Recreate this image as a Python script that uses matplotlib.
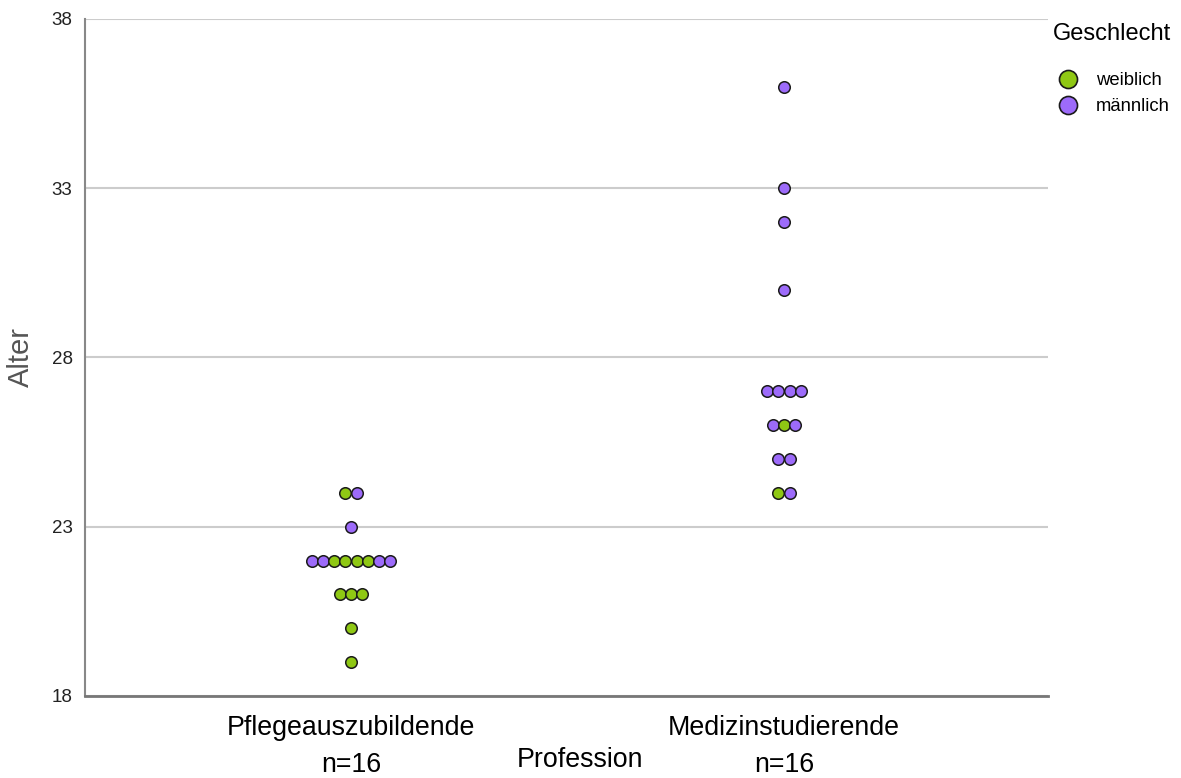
import matplotlib
matplotlib.use("Agg")
import matplotlib.pyplot as plt
from matplotlib.lines import Line2D
from collections import Counter, defaultdict

plt.rcParams["font.family"] = ["Liberation Sans", "DejaVu Sans"]

# ---- data ----
kategorien = ["Pflegeauszubildende", "Medizinstudierende"]
n_labels = ["n=16", "n=16"]
pflege_alter = [24, 24, 23, 22, 22, 22, 22, 22, 22, 22, 22, 21, 21, 21, 20, 19]
pflege_geschlecht = ["w", "m", "m", "m", "m", "w", "w", "w", "w", "m", "m",
                     "w", "w", "w", "w", "w"]
medizin_alter = [36, 33, 32, 30, 27, 27, 27, 27, 26, 26, 26, 25, 25, 24, 24]
medizin_geschlecht = ["m", "m", "m", "m", "m", "m", "m", "m", "m", "w", "m",
                      "m", "m", "w", "m"]
yticks = [18, 23, 28, 33, 38]

farben = {"w": "#8fc814", "m": "#9d6bfa"}
namen = {"w": "weiblich", "m": "männlich"}

fig = plt.figure(figsize=(11.81, 7.78), dpi=100)
ax = fig.add_axes([0.072, 0.1054, 0.8155, 0.8702])

spacing = 0.026
for ci, (alter, geschl) in enumerate([(pflege_alter, pflege_geschlecht),
                                      (medizin_alter, medizin_geschlecht)]):
    counts = Counter(alter)
    seen = defaultdict(int)
    for a, g in zip(alter, geschl):
        n = counts[a]
        i = seen[a]
        seen[a] += 1
        x = ci + (i - (n - 1) / 2) * spacing
        ax.plot([x], [a], "o", ms=8.3, mfc=farben[g], mec="#1a1a1a", mew=1.1,
                zorder=3, clip_on=False)

ax.set_ylim(18, 38)
ax.set_xlim(-0.614, 1.61)
ax.set_yticks(yticks)
ax.set_yticklabels([str(t) for t in yticks], fontsize=13.5, color="#222222")
ax.yaxis.grid(True, color="#cccccc", lw=1.5)
ax.set_axisbelow(True)
ax.tick_params(axis="y", length=0, pad=9)
ax.tick_params(axis="x", length=0, pad=14)
ax.set_xticks([0, 1])
ax.set_xticklabels([f"{k}\n{n}" for k, n in zip(kategorien, n_labels)],
                   fontsize=19.3, linespacing=1.55, color="#000000")
for s in ["top", "right"]:
    ax.spines[s].set_visible(False)
ax.spines["left"].set_color("#888888")
ax.spines["left"].set_linewidth(1.5)
ax.spines["bottom"].set_color("#777777")
ax.spines["bottom"].set_linewidth(2)

ax.set_ylabel("Alter", fontsize=21, color="#555555", labelpad=12)
fig.text(580 / 1181, 1 - 760 / 778, "Profession", fontsize=19.3,
         ha="center", va="center", color="#000000")

fig.text(1053 / 1181, 1 - 34 / 778, "Geschlecht", fontsize=17,
         ha="left", va="center", color="#000000")
handles = [Line2D([], [], ls="none", marker="o", ms=13, mfc=farben[k],
                  mec="#1a1a1a", mew=1.2, label=namen[k]) for k in ["w", "m"]]
leg = fig.legend(handles=handles, loc="upper left",
                 bbox_to_anchor=(1057 / 1181, 1 - 72 / 778), frameon=False,
                 fontsize=13.3, handletextpad=0.9, handlelength=1.2,
                 labelspacing=0.5, borderaxespad=0, borderpad=0)

fig.savefig("out.png", dpi=100)
